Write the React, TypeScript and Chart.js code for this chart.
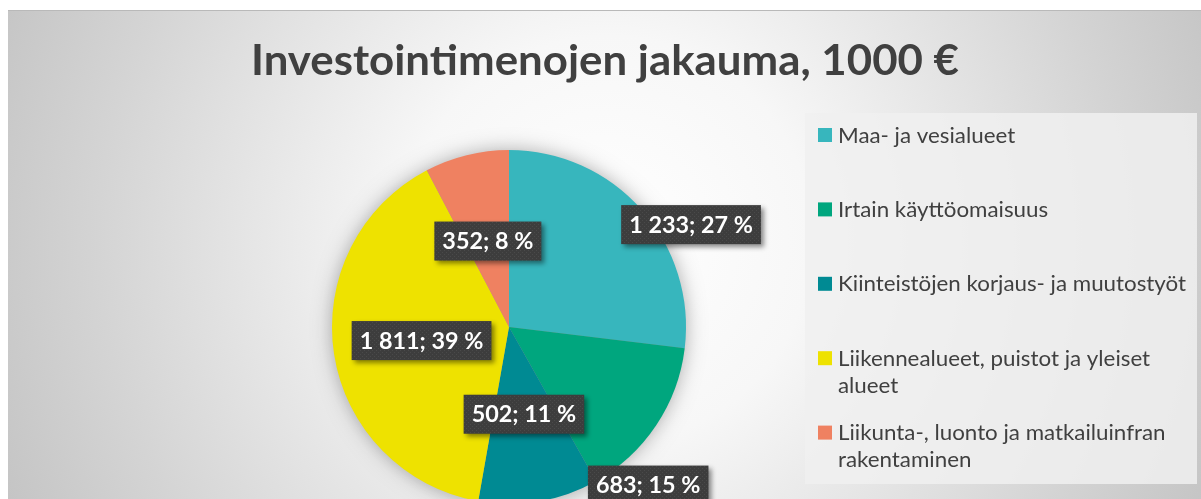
import React, { useEffect, useRef } from 'react';
import { Chart, registerables } from 'chart.js';

Chart.register(...registerables);

const titleText = 'Investointimenojen jakauma, 1000 €';
const categories = [
  'Maa- ja vesialueet',
  'Irtain käyttöomaisuus',
  'Kiinteistöjen korjaus- ja muutostyöt',
  'Liikennealueet, puistot ja yleiset alueet',
  'Liikunta-, luonto ja matkailuinfran rakentaminen',
];
const values = [1233, 683, 502, 1811, 352];
const colors = ['#37B6BD', '#00A67E', '#008A93', '#EEE200', '#EF8161'];

// label placement (style config): radius factor and angular shift in degrees
const labelRadius = [1.18, 1.19, 0.5, 0.5, 0.5];
const labelShift = [12.2, 14.9, 0, 0, 0];

const FONT = 'Lato, "Open Sans", sans-serif';

function fmtNum(n: number): string {
  return String(n).replace(/\B(?=(\d{3})+(?!\d))/g, ' ');
}

function percents(vals: number[]): number[] {
  const total = vals.reduce((a, b) => a + b, 0);
  const raw = vals.map((v) => (v / total) * 100);
  const fl = raw.map((r) => Math.floor(r));
  const rem = 100 - fl.reduce((a, b) => a + b, 0);
  const order = raw.map((r, i) => [r - Math.floor(r), i]).sort((a, b) => b[0] - a[0]);
  for (let k = 0; k < rem; k++) fl[order[k][1]] += 1;
  return fl;
}

function scaleFor(ctx: CanvasRenderingContext2D, text: string, font: string, target: number): number {
  ctx.font = font;
  return target / ctx.measureText(text).width;
}

function drawScaled(
  ctx: CanvasRenderingContext2D,
  text: string,
  x: number,
  y: number,
  sx: number,
  align: 'left' | 'center'
) {
  ctx.save();
  ctx.translate(x, y);
  ctx.scale(sx, 1);
  ctx.textAlign = align;
  ctx.fillText(text, 0, 0);
  ctx.restore();
}

const decorPlugin = {
  id: 'decor',
  beforeDraw(chart: any) {
    const { ctx, width, height } = chart;
    ctx.save();
    const g = ctx.createRadialGradient(600, 230, 0, 600, 230, 680);
    g.addColorStop(0, '#ffffff');
    g.addColorStop(0.3, '#f7f7f7');
    g.addColorStop(0.75, '#d4d4d4');
    g.addColorStop(1, '#c2c2c2');
    ctx.fillStyle = g;
    ctx.fillRect(0, 0, width, height);
    ctx.fillStyle = '#b9b9b9';
    ctx.fillRect(0, 0, width, 1);

    // title
    const tFont = `bold 42px ${FONT}`;
    const tsx = scaleFor(ctx, titleText, tFont, 708);
    ctx.font = tFont;
    ctx.fillStyle = '#404040';
    ctx.textBaseline = 'alphabetic';
    drawScaled(ctx, titleText, 597, 65, tsx, 'center');

    // legend box
    ctx.fillStyle = 'rgba(240,240,240,0.85)';
    ctx.fillRect(797, 103, 392, 371);
    const lFont = `normal 21px ${FONT}`;
    const lsx = scaleFor(ctx, categories[2], lFont, 348);
    ctx.font = lFont;
    ctx.textBaseline = 'alphabetic';
    const maxW = 352;
    categories.forEach((c, i) => {
      const y0 = 125 + i * 74.4;
      ctx.fillStyle = colors[i];
      ctx.fillRect(810, y0 - 7, 14, 14);
      const words = c.split(' ');
      const lines: string[] = [];
      let cur = '';
      words.forEach((w) => {
        const t = cur ? cur + ' ' + w : w;
        if (ctx.measureText(t).width * lsx > maxW && cur) {
          lines.push(cur);
          cur = w;
        } else cur = t;
      });
      lines.push(cur);
      ctx.fillStyle = '#404040';
      lines.forEach((l, j) => drawScaled(ctx, l, 830, y0 + 7.5 + j * 27, lsx, 'left'));
    });

    // pie shadow
    const arc = chart.getDatasetMeta(0).data[0];
    if (arc) {
      ctx.shadowColor = 'rgba(0,0,0,0.35)';
      ctx.shadowBlur = 20;
      ctx.beginPath();
      ctx.arc(arc.x, arc.y, arc.outerRadius - 1, 0, Math.PI * 2);
      ctx.fillStyle = '#999';
      ctx.fill();
    }
    ctx.restore();
  },
  afterDatasetsDraw(chart: any) {
    const { ctx } = chart;
    const pct = percents(values);
    const meta = chart.getDatasetMeta(0);
    const pc = document.createElement('canvas');
    pc.width = 4;
    pc.height = 4;
    const pctx = pc.getContext('2d')!;
    pctx.fillStyle = '#3d3d3d';
    pctx.fillRect(0, 0, 4, 4);
    pctx.fillStyle = '#4a4a4a';
    pctx.fillRect(0, 0, 1, 1);
    pctx.fillRect(2, 2, 1, 1);
    const pattern = ctx.createPattern(pc, 'repeat');
    const fFont = `bold 22px ${FONT}`;
    const fsx = scaleFor(ctx, '352; 8 %', fFont, 91);
    ctx.save();
    meta.data.forEach((arc: any, i: number) => {
      const mid = (arc.startAngle + arc.endAngle) / 2 + (labelShift[i] * Math.PI) / 180;
      const r = arc.outerRadius * labelRadius[i];
      const cx = arc.x + Math.cos(mid) * r;
      const cy = arc.y + Math.sin(mid) * r;
      const text = `${fmtNum(values[i])}; ${pct[i]} %`;
      ctx.font = fFont;
      const tw = ctx.measureText(text).width * fsx;
      const bw = tw + 16;
      const bh = 39;
      ctx.save();
      ctx.shadowColor = 'rgba(0,0,0,0.45)';
      ctx.shadowBlur = 5;
      ctx.shadowOffsetX = 3;
      ctx.shadowOffsetY = 3;
      ctx.fillStyle = pattern || '#404040';
      ctx.fillRect(cx - bw / 2, cy - bh / 2, bw, bh);
      ctx.restore();
      ctx.fillStyle = '#ffffff';
      ctx.textBaseline = 'alphabetic';
      drawScaled(ctx, text, cx, cy + 8, fsx, 'center');
    });
    ctx.restore();
  },
};

export default function App() {
  const ref = useRef<HTMLCanvasElement | null>(null);
  useEffect(() => {
    if (!ref.current) return;
    const W = 1193;
    const H = 520;
    const cx = 501;
    const cy = 317;
    const R = 177;
    const chart = new Chart(ref.current, {
      type: 'pie',
      data: {
        labels: categories,
        datasets: [
          {
            data: values,
            backgroundColor: colors,
            borderWidth: 0,
          },
        ],
      },
      options: {
        animation: false,
        responsive: false,
        maintainAspectRatio: false,
        layout: {
          padding: { left: cx - R, right: W - cx - R, top: cy - R, bottom: H - cy - R },
        },
        plugins: {
          legend: { display: false },
          tooltip: { enabled: false },
          title: { display: false },
        },
      },
      plugins: [decorPlugin],
    });
    return () => chart.destroy();
  }, []);
  return (
    <div
      style={{
        position: 'fixed',
        left: 8,
        top: 10,
        width: 1193,
        height: 489,
        overflow: 'hidden',
      }}
    >
      <canvas ref={ref} width={1193} height={520} style={{ display: 'block', width: 1193, height: 520 }} />
    </div>
  );
}
